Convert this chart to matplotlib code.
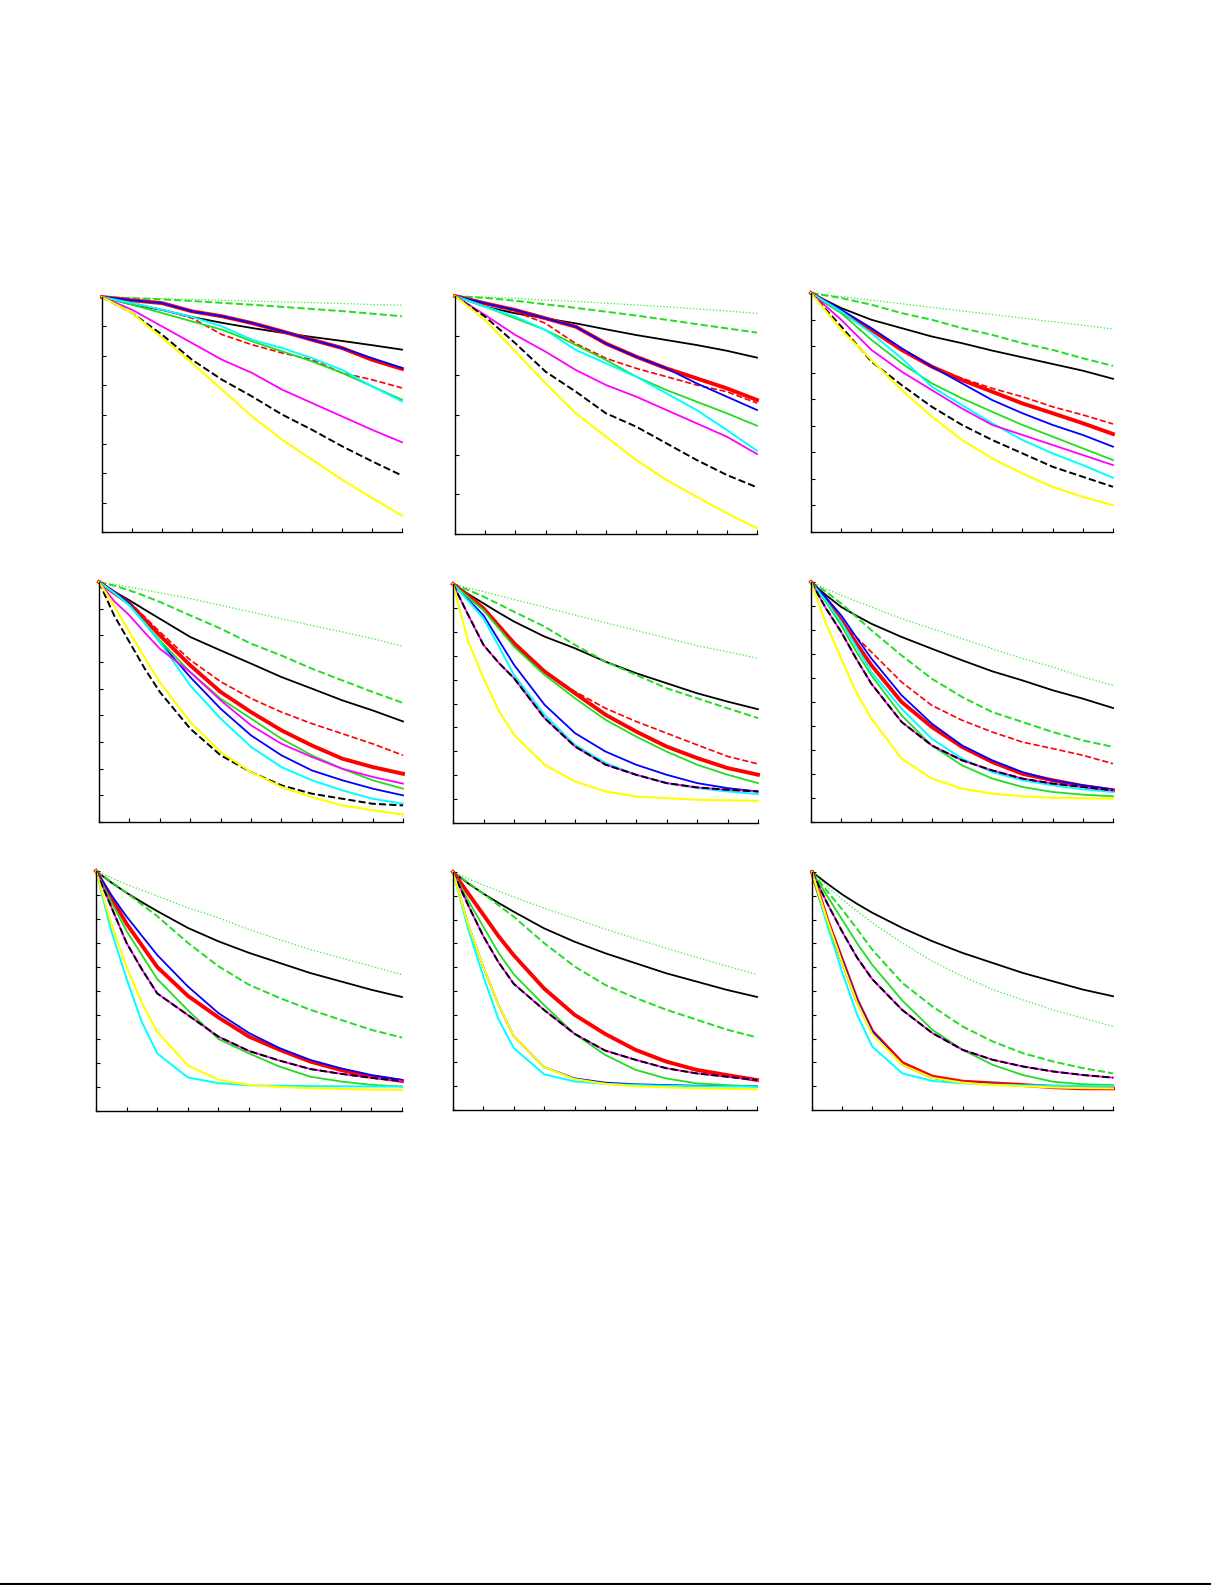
import matplotlib.pyplot as plt
from matplotlib.lines import Line2D
import numpy as np

# x positions: top row read at each tick, lower rows also at half steps early on
x_top = [0, 1, 2, 3, 4, 5, 6, 7, 8, 9, 10]
x_low = [0, 0.5, 1, 1.5, 2, 3, 4, 5, 6, 7, 8, 9, 10]

# one row per panel, panels in reading order (fraction of axis height, 1 = top)
black_solid = [
    [1, .968, .945, .915, .89, .868, .848, .83, .813, .795, .776],
    [1, .955, .927, .906, .885, .86, .836, .815, .794, .77, .741],
    [1, .937, .888, .853, .818, .79, .759, .731, .703, .675, .641],
    [1, .96, .924, .885, .847, .771, .715, .66, .604, .556, .507, .465, .419],
    [1, .958, .919, .88, .843, .78, .731, .675, .627, .585, .543, .508, .476],
    [1, .945, .896, .86, .826, .771, .722, .674, .628, .59, .549, .514, .475],
    [1, .952, .909, .87, .833, .763, .707, .659, .617, .575, .54, .505, .475],
    [1, .952, .909, .87, .833, .763, .707, .659, .617, .575, .54, .505, .475],
    [1, .952, .906, .866, .829, .765, .709, .66, .618, .576, .541, .506, .478],
]
green_dotted = [
    [1, .997, .993, .99, .986, .983, .979, .976, .972, .968, .965],
    [1, .995, .99, .983, .977, .97, .962, .955, .946, .937, .927],
    [1, .985, .97, .955, .94, .925, .91, .895, .88, .865, .849],
    [1, .99, .979, .967, .955, .931, .903, .875, .847, .819, .792, .764, .732],
    [1, .984, .968, .952, .935, .903, .87, .838, .806, .774, .742, .716, .689],
    [1, .972, .944, .92, .896, .847, .806, .764, .722, .681, .646, .604, .569],
    [1, .972, .944, .92, .896, .847, .805, .756, .714, .673, .638, .603, .568],
    [1, .972, .945, .92, .895, .848, .805, .76, .72, .68, .642, .605, .569],
    [1, .94, .885, .835, .787, .702, .625, .562, .506, .463, .421, .386, .351],
]
green_dashed = [
    [1, .995, .99, .983, .975, .967, .958, .949, .94, .929, .918],
    [1, .992, .98, .965, .95, .934, .918, .90, .882, .864, .846],
    [1, .979, .951, .916, .888, .853, .825, .79, .762, .727, .695],
    [1, .985, .965, .942, .917, .861, .806, .743, .694, .639, .59, .542, .496],
    [1, .975, .947, .916, .884, .822, .745, .675, .62, .564, .522, .48, .439],
    [1, .96, .91, .855, .799, .694, .597, .521, .458, .417, .375, .34, .313],
    [1, .955, .909, .86, .812, .701, .603, .526, .471, .422, .38, .338, .306],
    [1, .955, .909, .86, .812, .701, .603, .526, .471, .422, .38, .338, .305],
    [1, .92, .843, .76, .674, .534, .435, .351, .288, .239, .204, .176, .154],
]
red_solid = [
    [1, .986, .974, .939, .918, .889, .854, .818, .783, .733, .694],
    [1, .969, .941, .906, .871, .80, .745, .696, .654, .612, .563],
    [1, .923, .846, .762, .692, .636, .587, .538, .497, .455, .41],
    [1, .955, .91, .845, .778, .653, .542, .458, .382, .319, .264, .229, .201],
    [1, .95, .898, .825, .752, .634, .543, .453, .383, .32, .272, .23, .202],
    [1, .925, .84, .745, .653, .5, .396, .313, .25, .201, .174, .15, .132],
    [1, .89, .78, .69, .60, .48, .39, .31, .255, .206, .171, .143, .125],
    [1, .91, .82, .73, .65, .51, .40, .32, .253, .204, .169, .147, .126],
    [1, .80, .63, .46, .33, .197, .14, .119, .112, .105, .096, .091, .091],
]
red_dashed = [
    [1, .974, .946, .91, .84, .797, .762, .733, .677, .648, .613],
    [1, .969, .934, .885, .80, .738, .696, .661, .626, .598, .55],
    [1, .923, .846, .762, .692, .643, .601, .566, .524, .49, .452],
    [1, .96, .917, .855, .792, .675, .585, .515, .458, .41, .368, .326, .278],
    [1, .95, .898, .83, .759, .634, .55, .48, .425, .376, .327, .279, .247],
    [1, .92, .833, .77, .708, .583, .486, .424, .375, .333, .306, .278, .243],
    None,
    None,
    None,
]
blue_solid = [
    [1, .986, .974, .939, .918, .889, .854, .818, .783, .74, .698],
    [1, .969, .941, .906, .871, .80, .745, .696, .633, .577, .521],
    [1, .93, .853, .769, .692, .622, .552, .497, .448, .406, .357],
    [1, .96, .91, .83, .75, .604, .472, .361, .278, .215, .174, .139, .111],
    [1, .935, .869, .765, .662, .495, .376, .299, .244, .202, .167, .146, .132],
    [1, .935, .861, .77, .681, .528, .41, .319, .257, .208, .174, .153, .136],
    [1, .9, .81, .73, .65, .519, .408, .325, .262, .213, .178, .15, .13],
    [1, .78, .60, .44, .31, .18, .133, .115, .108, .105, .102, .101, .1],
    [1, .80, .63, .46, .33, .19, .135, .115, .108, .104, .102, .101, .101],
]
green_solid = [
    [1, .967, .932, .896, .861, .811, .769, .726, .677, .62, .563],
    [1, .955, .906, .857, .794, .731, .661, .605, .556, .507, .455],
    [1, .916, .804, .706, .622, .559, .503, .448, .399, .35, .301],
    [1, .955, .903, .83, .757, .625, .514, .431, .347, .278, .222, .174, .139],
    [1, .945, .891, .815, .738, .62, .522, .432, .362, .299, .244, .202, .167],
    [1, .915, .819, .71, .611, .444, .319, .236, .181, .146, .125, .114, .107],
    [1, .87, .75, .65, .55, .42, .30, .24, .185, .143, .123, .109, .102],
    [1, .88, .77, .66, .57, .44, .32, .232, .169, .133, .112, .105, .098],
    [1, .90, .80, .70, .61, .46, .337, .253, .19, .147, .119, .108, .105],
]
cyan_solid = [
    [1, .974, .946, .915, .875, .818, .783, .74, .69, .62, .556],
    [1, .955, .913, .857, .773, .717, .661, .591, .521, .437, .35],
    [1, .923, .832, .727, .608, .531, .455, .385, .329, .28, .227],
    [1, .955, .903, .83, .75, .569, .431, .313, .229, .174, .132, .097, .076],
    [1, .93, .856, .74, .62, .453, .327, .251, .202, .167, .146, .132, .121],
    [1, .92, .833, .73, .625, .472, .347, .264, .208, .174, .153, .136, .125],
    [1, .75, .55, .37, .24, .14, .116, .107, .105, .104, .103, .102, .102],
    [1, .76, .56, .38, .26, .15, .12, .11, .105, .102, .1, .099, .098],
    [1, .78, .58, .40, .267, .154, .122, .112, .107, .104, .102, .101, .101],
]
magenta_solid = [
    [1, .946, .875, .804, .733, .677, .606, .549, .492, .435, .382],
    [1, .92, .836, .766, .689, .626, .577, .521, .465, .409, .336],
    [1, .888, .762, .671, .594, .517, .448, .406, .364, .322, .28],
    [1, .92, .861, .79, .722, .625, .507, .403, .326, .271, .222, .188, .16],
    [1, .87, .745, .67, .606, .439, .32, .244, .202, .167, .149, .139, .132],
    [1, .889, .792, .68, .576, .417, .319, .257, .215, .181, .16, .146, .132],
    [1, .85, .70, .59, .49, .40, .31, .25, .21, .175, .155, .138, .125],
    [1, .86, .73, .62, .53, .42, .32, .25, .211, .176, .154, .14, .126],
    [1, .87, .75, .64, .55, .42, .323, .253, .211, .183, .162, .147, .136],
]
black_dashed = [
    [1, .932, .84, .733, .648, .577, .5, .435, .365, .301, .24],
    [1, .913, .801, .682, .598, .507, .451, .381, .311, .248, .196],
    [1, .86, .713, .615, .524, .448, .385, .329, .273, .231, .189],
    [1, .86, .75, .64, .542, .389, .278, .208, .153, .118, .097, .076, .069],
    [1, .87, .745, .67, .606, .439, .32, .244, .202, .167, .149, .139, .132],
    [1, .889, .792, .68, .576, .417, .319, .257, .215, .181, .16, .146, .132],
    [1, .85, .70, .59, .49, .40, .31, .25, .21, .175, .155, .138, .125],
    [1, .86, .73, .62, .53, .42, .32, .25, .211, .176, .154, .14, .126],
    [1, .87, .75, .64, .55, .42, .323, .253, .211, .183, .162, .147, .136],
]
yellow_solid = [
    [1, .932, .826, .719, .606, .492, .393, .308, .223, .145, .07],
    [1, .899, .766, .633, .507, .409, .311, .227, .157, .087, .024],
    [1, .846, .72, .594, .483, .385, .308, .245, .189, .147, .112],
    [1, .9, .792, .685, .583, .417, .292, .208, .146, .104, .069, .049, .031],
    [1, .759, .606, .47, .369, .244, .174, .132, .111, .104, .097, .095, .093],
    [1, .826, .681, .54, .431, .264, .181, .139, .118, .107, .101, .099, .097],
    [1, .78, .60, .45, .33, .19, .13, .109, .1, .095, .092, .089, .088],
    [1, .78, .60, .44, .31, .18, .13, .11, .1, .095, .091, .089, .087],
    [1, .80, .62, .45, .32, .19, .135, .115, .105, .1, .095, .092, .091],
]

y_intervals = [8, 6, 9, 9, 10, 10, 10, 10, 10]

# (series, color, linestyle, linewidth) in drawing order
styles = [
    (black_solid, 'k', '-', 1.3),
    (green_dotted, '#33ee33', ':', 0.9),
    (green_dashed, '#22dd22', '--', 1.4),
    (red_solid, '#ff0000', '-', 2.8),
    (red_dashed, '#ff0000', '--', 1.2),
    (blue_solid, '#0000ff', '-', 1.3),
    (green_solid, '#22dd22', '-', 1.3),
    (cyan_solid, '#00ffff', '-', 1.4),
    (magenta_solid, '#ff00ff', '-', 1.3),
    (black_dashed, 'k', '--', 1.4),
    (yellow_solid, '#ffff00', '-', 1.5),
]

# axes boxes in pixels: left, right, top, bottom
boxes = [
    (102, 402, 297, 532), (455, 757, 296, 534), (811, 1113, 293, 532),
    (99, 403, 582, 822), (453, 758, 584, 823), (811, 1113, 582, 822),
    (96, 402, 871, 1111), (453, 757, 872, 1110), (812, 1113, 872, 1110),
]

W, H = 1225, 1585
fig = plt.figure(figsize=(W / 100, H / 100), dpi=100)

for i, (l, r, t, b) in enumerate(boxes):
    ax = fig.add_axes([l / W, 1 - b / H, (r - l) / W, (b - t) / H])
    xs = x_top if i < 3 else x_low
    for series, c, ls, lw in styles:
        ys = series[i]
        if ys is None:
            continue
        ax.plot(xs, ys, color=c, linestyle=ls, linewidth=lw, clip_on=False)
    ax.set_xlim(0, 10)
    ax.set_ylim(0, 1)
    ax.set_xticks(np.arange(11))
    ax.set_yticks(np.linspace(0, 1, y_intervals[i] + 1))
    ax.tick_params(direction='in', length=3, width=0.8,
                   labelbottom=False, labelleft=False)
    ax.spines['top'].set_visible(False)
    ax.spines['right'].set_visible(False)
    for s in ('left', 'bottom'):
        ax.spines[s].set_linewidth(1.0)

# rule at the foot of the page
fig.add_artist(Line2D([0, 1210 / W], [1.5 / H, 1.5 / H], color='k', linewidth=1.5,
                      transform=fig.transFigure))

fig.savefig('out.png', dpi=100)
